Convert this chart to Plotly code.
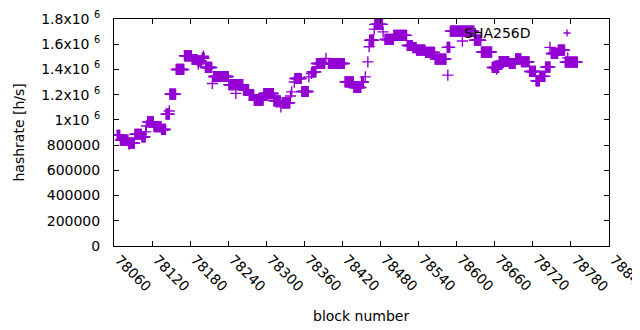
import plotly.graph_objects as go

# ---- data (runs of equal hashrate, plus single blocks) ----
run_start = [78005, 78010, 78023, 78033, 78044, 78053, 78063, 78075, 78082, 78088,
             78098, 78111, 78123, 78132, 78139, 78144, 78157, 78181, 78204, 78213,
             78221, 78236, 78252, 78265, 78285, 78296, 78312, 78319, 78338, 78364,
             78378, 78390, 78403, 78411, 78427, 78441, 78462, 78471, 78477, 78491,
             78506, 78525, 78530, 78568, 78579, 78596, 78607, 78623, 78633, 78642,
             78655, 78665, 78671, 78680, 78689, 78700, 78711]
run_end = [78009, 78022, 78032, 78043, 78049, 78062, 78074, 78081, 78087, 78097,
           78110, 78122, 78131, 78138, 78142, 78154, 78180, 78203, 78212, 78220,
           78235, 78251, 78262, 78277, 78295, 78306, 78318, 78332, 78363, 78377,
           78389, 78393, 78409, 78423, 78440, 78461, 78470, 78476, 78490, 78505,
           78523, 78529, 78567, 78578, 78595, 78606, 78622, 78632, 78641, 78654,
           78664, 78670, 78679, 78687, 78699, 78710, 78730]
run_value = [878000, 840000, 815000, 886000, 865000, 984000, 947000, 924000, 1045000, 1204000,
             1400000, 1508000, 1479000, 1466000, 1490000, 1416000, 1344000, 1279000, 1238000, 1196000,
             1156000, 1209000, 1151000, 1135000, 1328000, 1225000, 1381000, 1447000, 1447000, 1302000,
             1257000, 1300000, 1632000, 1757000, 1638000, 1670000, 1590000, 1573000, 1553000, 1535000,
             1482000, 1575000, 1704000, 1632000, 1537000, 1416000, 1463000, 1447000, 1484000, 1461000,
             1384000, 1310000, 1345000, 1418000, 1527000, 1553000, 1458000]

single_block = [78024, 78050, 78051, 78087, 78133, 78141, 78155, 78192, 78263, 78278,
                78280, 78284, 78307, 78311, 78334, 78396, 78400, 78402, 78410, 78424,
                78526, 78549, 78603, 78687, 78715]
single_value = [807000, 905000, 952000, 1071000, 1442000, 1505000, 1289000, 1210000, 1103000, 1190000,
                1222000, 1300000, 1341000, 1368000, 1487000, 1341000, 1460000, 1580000, 1720000, 1698000,
                1355000, 1625000, 1402000, 1575000, 1492000]

x_tick_vals = [78060 + 60 * i for i in range(13)]
x_tick_labels = ["78060", "78120", "78180", "78240", "78300", "78360", "78420",
                 "78480", "78540", "78600", "78660", "78720", "78780", "78840"]
y_tick_vals = [0, 200000, 400000, 600000, 800000, 1000000, 1200000, 1400000, 1600000, 1800000]
y_tick_text = ["0", "200000", "400000", "600000", "800000", "1x10 <sup>6</sup>",
               "1.2x10 <sup>6</sup>", "1.4x10 <sup>6</sup>", "1.6x10 <sup>6</sup>", "1.8x10 <sup>6</sup>"]
series_name = "SHA256D"
X_MIN, X_MAX = 78000, 78780

# expand runs into one point per block
blocks, rates = [], []
for s, e, v in zip(run_start, run_end, run_value):
    for b in range(s, e + 1):
        blocks.append(b)
        rates.append(v)
blocks += single_block
rates += single_value

COLOR = "#9400D3"
FONT = "DejaVu Sans"
OFF = 8  # default page body margin of the written html
W, H = 640, 330 - OFF
L, R, T, B = 114 - OFF, 31 + OFF, 19 - OFF, 84
PW, PH = W - L - R, H - T - B

fig = go.Figure()
fig.add_trace(go.Scatter(
    x=blocks, y=rates, mode="markers", name=series_name, showlegend=False,
    marker=dict(symbol="cross-thin", size=8, color=COLOR,
                line=dict(width=1.4, color=COLOR)),
))

axis_common = dict(showline=True, linecolor="black", linewidth=1, mirror="allticks",
                   ticks="inside", ticklen=5, tickcolor="black", showgrid=False,
                   zeroline=False, automargin=False)
fig.update_xaxes(range=[X_MIN, X_MAX], tickvals=x_tick_vals, showticklabels=False,
                 **axis_common)
fig.update_yaxes(range=[0, 1800000], tickvals=y_tick_vals, ticktext=y_tick_text,
                 tickfont=dict(family=FONT, size=14, color="black"),
                 ticklabelstandoff=10, **axis_common)

anns = []
# rotated x tick labels, gnuplot-style offset
for i, lab in enumerate(x_tick_labels):
    v = x_tick_vals[0] + 60 * i
    anns.append(dict(x=(v - X_MIN) / (X_MAX - X_MIN), xref="paper", y=0, yref="paper",
                     text=lab, showarrow=False, textangle=45, xanchor="center",
                     yanchor="middle", xshift=-19, yshift=-27,
                     font=dict(family=FONT, size=14, color="black")))
# axis titles
anns.append(dict(x=0.5, xref="paper", y=0, yref="paper", text="block number",
                 showarrow=False, xanchor="center", yanchor="middle", xshift=-1,
                 yshift=-70, font=dict(family=FONT, size=14, color="black")))
anns.append(dict(x=0, xref="paper", y=0.5, yref="paper", text="hashrate [h/s]",
                 showarrow=False, textangle=-90, xanchor="center", yanchor="middle",
                 xshift=-96, font=dict(family=FONT, size=14, color="black")))

# key (gnuplot style: text then sample on the right); positions in page pixels
def px2paper(px, py):
    return (px - OFF - L) / PW, (H - B - (py - OFF)) / PH

kx, ky = px2paper(533, 33)
anns.append(dict(x=kx, xref="paper", y=ky, yref="paper", text=series_name,
                 showarrow=False, xanchor="right", yanchor="middle",
                 font=dict(family=FONT, size=14, color="black")))
sx0, _ = px2paper(563.5, 33)
sx1, _ = px2paper(570.5, 33)
scx, scy = px2paper(567, 33)
_, sy2 = px2paper(567, 36.5)
_, sy3 = px2paper(567, 29.5)
shapes = [dict(type="path", xref="paper", yref="paper",
               path=f"M {sx0},{scy} L {sx1},{scy} M {scx},{sy2} L {scx},{sy3}",
               line=dict(color=COLOR, width=1.4))]

fig.update_layout(width=W, height=H, autosize=False,
                  margin=dict(l=L, r=R, t=T, b=B, pad=0, autoexpand=False),
                  paper_bgcolor="white", plot_bgcolor="white",
                  annotations=anns, shapes=shapes,
                  font=dict(family=FONT, size=14, color="black"))

fig.write_html("out.html")
